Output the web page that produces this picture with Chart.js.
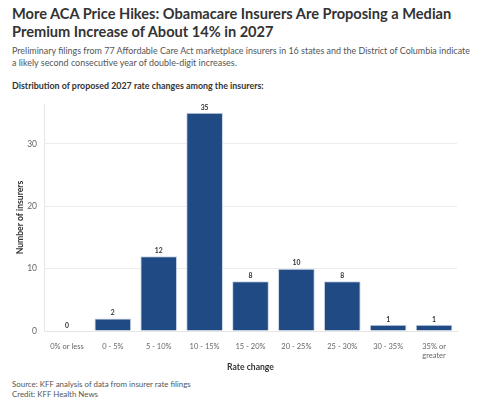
<!DOCTYPE html>
<html>
<head>
<meta charset="utf-8">
<script src="https://cdn.jsdelivr.net/npm/chart.js@4"></script>
<style>
  html, body { margin: 0; padding: 0; background: #fff; }
  body { width: 499px; height: 407px; position: relative; overflow: hidden; font-family: Lato, "Open Sans", sans-serif; }
  #title { position: absolute; left: 12px; top: 5px; width: 470px; font-size: 14.6px; font-weight: 700; line-height: 18px; color: #333; }
  #subtitle { position: absolute; left: 12px; top: 45px; width: 470px; font-size: 8.95px; line-height: 12px; color: #555; }
  #chartTitle { position: absolute; left: 12px; top: 80px; font-size: 8.9px; font-weight: 700; color: #333; }
  #footer { position: absolute; left: 12px; top: 380px; font-size: 7.9px; line-height: 9.6px; color: #555; }
  #wrap { position: absolute; left: 0; top: 92px; width: 499px; height: 280px; }
</style>
</head>
<body>
<div id="title">More ACA Price Hikes: Obamacare Insurers Are Proposing a Median Premium Increase of About 14% in 2027</div>
<div id="subtitle">Preliminary filings from 77 Affordable Care Act marketplace insurers in 16 states and the District of Columbia indicate<br>a likely second consecutive year of double-digit increases.</div>
<div id="chartTitle">Distribution of proposed 2027 rate changes among the insurers:</div>
<div id="wrap"><canvas id="chart"></canvas></div>
<div id="footer">Source: KFF analysis of data from insurer rate filings<br>Credit: KFF Health News</div>

<script>
// Data
const rateBins = ["0% or less", "0 - 5%", "5 - 10%", "10 - 15%", "15 - 20%", "20 - 25%", "25 - 30%", "30 - 35%", ["35% or", "greater"]];
const insurerCounts = [0, 2, 12, 35, 8, 10, 8, 1, 1];
const yTicks = [0, 10, 20, 30];

// Value labels above each bar
const barLabels = {
    id: "barLabels",
    afterDatasetsDraw(chart) {
        const ctx = chart.ctx;
        const meta = chart.getDatasetMeta(0);
        ctx.save();
        ctx.font = "700 6.8px Lato, sans-serif";
        ctx.fillStyle = "#333";
        ctx.textAlign = "center";
        ctx.textBaseline = "bottom";
        meta.data.forEach((bar, i) => {
            ctx.fillText(insurerCounts[i], bar.x, bar.y - 2);
        });
        ctx.restore();
    }
};

new Chart(document.getElementById("chart"), {
    type: "bar",
    data: {
        labels: rateBins,
        datasets: [{
            label: "Number of insurers",
            data: insurerCounts,
            backgroundColor: "#1f4a83",
            borderColor: "#c9d4e4",
            borderWidth: { top: 1, left: 1, right: 1, bottom: 0 },
            categoryPercentage: 0.8,
            barPercentage: 1
        }]
    },
    options: {
        responsive: true,
        maintainAspectRatio: false,
        animation: false,
        layout: { padding: { top: 8, right: 42, left: 15, bottom: 0 } },
        plugins: {
            legend: { display: false },
            tooltip: { enabled: false }
        },
        scales: {
            x: {
                grid: { display: false },
                border: { color: "#e6e6e6" },
                ticks: { color: "#666", font: { family: "Lato", size: 7.5 }, padding: 3, maxRotation: 0, autoSkip: false },
                title: { display: true, text: "Rate change", color: "#333", font: { family: "Lato", size: 8.6, weight: "700" }, padding: { top: 6, bottom: 0 } },
                afterFit(scale) { scale.height = 41; }
            },
            y: {
                min: 0,
                max: 36.4,
                afterBuildTicks(scale) { scale.ticks = yTicks.map(v => ({ value: v })); },
                grid: { color: ctx => ctx.tick && ctx.tick.value === 0 ? "#e6e6e6" : "#ececec", drawTicks: false },
                border: { color: "#e6e6e6" },
                ticks: { color: "#666", font: { family: "Lato", size: 8.5 }, padding: 7 },
                title: { display: true, text: "Number of insurers", color: "#333", font: { family: "Lato", size: 8.6, weight: "700" }, padding: { top: 0, bottom: 0 } },
                afterFit(scale) { scale.width = 29; }
            }
        }
    },
    plugins: [barLabels]
});
</script>
</body>
</html>
